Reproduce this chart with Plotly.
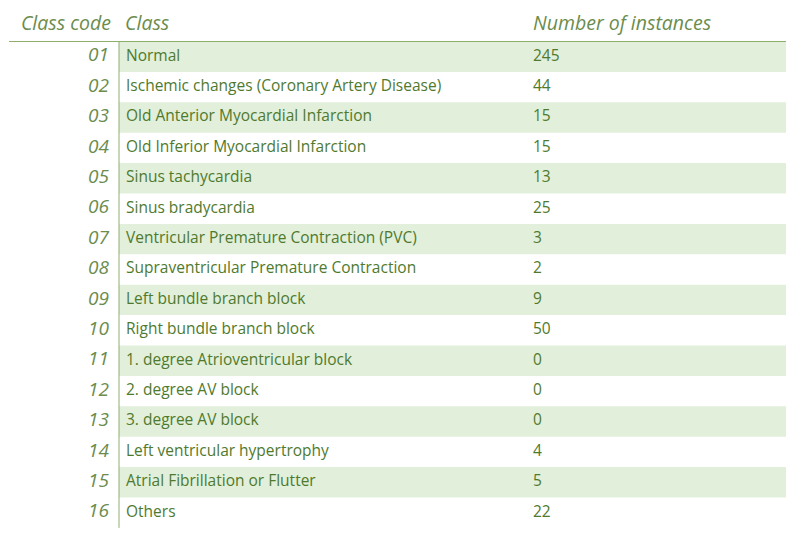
import plotly.graph_objects as go

codes = ["01", "02", "03", "04", "05", "06", "07", "08", "09", "10", "11", "12", "13", "14", "15", "16"]
classes = ["Normal", "Ischemic changes (Coronary Artery Disease)", "Old Anterior Myocardial Infarction",
           "Old Inferior Myocardial Infarction", "Sinus tachycardia", "Sinus bradycardia",
           "Ventricular Premature Contraction (PVC)", "Supraventricular Premature Contraction",
           "Left bundle branch block", "Right bundle branch block", "1. degree Atrioventricular block",
           "2. degree AV block", "3. degree AV block", "Left ventricular hypertrophy",
           "Atrial Fibrillation or Flutter", "Others"]
counts = [245, 44, 15, 15, 13, 25, 3, 2, 9, 50, 0, 0, 0, 4, 5, 22]
headers = ["Class code", "Class", "Number of instances"]

TXT = "#4f7a2e"
HDR = "#6b8c4c"
BG = "#e2efda"
row_h = 30.4
top = 40.5
ys = [top + row_h * (i + 0.5) for i in range(len(codes))]

fig = go.Figure()
shapes = []
for i in range(len(codes)):
    if i % 2 == 0:
        shapes.append(dict(type="rect", x0=118, x1=785, y0=top + row_h * i, y1=top + row_h * (i + 1),
                           fillcolor=BG, line_width=0, layer="below"))
shapes.append(dict(type="line", x0=8, x1=785, y0=top, y1=top, line=dict(color="#8fae6e", width=1)))
shapes.append(dict(type="line", x0=118, x1=118, y0=top, y1=top + row_h * len(codes),
                   line=dict(color="#8fae6e", width=1)))

fig.add_trace(go.Scatter(x=[108] * len(codes), y=ys, text=codes, mode="text", textposition="middle left",
                         textfont=dict(family="Open Sans", size=19, color=HDR, style="italic")))
fig.add_trace(go.Scatter(x=[125] * len(codes), y=ys, text=classes, mode="text", textposition="middle right",
                         textfont=dict(family="Open Sans", size=15.5, color=TXT)))
fig.add_trace(go.Scatter(x=[532] * len(codes), y=ys, text=[str(c) for c in counts], mode="text",
                         textposition="middle right", textfont=dict(family="Open Sans", size=15.5, color=TXT)))
fig.add_trace(go.Scatter(x=[110, 124, 532], y=[24, 24, 24], text=headers, mode="text",
                         textposition=["middle left", "middle right", "middle right"],
                         textfont=dict(family="Open Sans", size=19.5, color=HDR, style="italic")))

fig.update_layout(width=811, height=536, margin=dict(l=0, r=0, t=0, b=0), showlegend=False,
                  plot_bgcolor="white", paper_bgcolor="white", shapes=shapes,
                  xaxis=dict(range=[7, 818], visible=False, fixedrange=True),
                  yaxis=dict(range=[543, 7], visible=False, fixedrange=True))
fig.write_html("out.html")
